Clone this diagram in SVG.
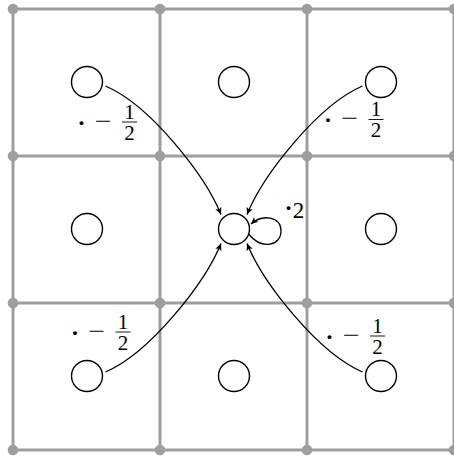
<svg xmlns="http://www.w3.org/2000/svg" width="454" height="460" viewBox="0 0 454 460">
<style>
.grid{stroke:#9e9e9e;stroke-width:3;fill:none}
.gd{fill:#9e9e9e}
.node{fill:none;stroke:#000;stroke-width:1.4}
.edge{fill:none;stroke:#000;stroke-width:1.3}
.t{font-family:'Liberation Serif','DejaVu Serif',serif;fill:#000}
.f{font-size:21px;text-anchor:middle}
.d{font-size:24px;text-anchor:middle;font-weight:bold}
.bar{stroke:#000;stroke-width:0.9}
</style>
<defs>
<marker id="arr" viewBox="-8 -4 9 8" refX="0" refY="0" markerWidth="9" markerHeight="8" markerUnits="userSpaceOnUse" orient="auto">
<path d="M0,0 L-7,-3.2 L-5.3,0 L-7,3.2 Z" fill="#000"/>
</marker>
<g id="lbl">
<text class="t d" x="-48" y="8.5">·</text>
<text class="t f" x="-26.5" y="5.8" textLength="17" lengthAdjust="spacingAndGlyphs">−</text>
<line class="bar" x1="-7.5" y1="0" x2="7.5" y2="0"/>
<text class="t f" x="0" y="-3.5">1</text>
<text class="t f" x="0" y="17.5">2</text>
</g>
</defs>
<rect width="454" height="460" fill="#fff"/>
<g id="grid">
<path class="grid" d="M13,9V450M160,9V450M307,9V450M454,9V450M13,9H454M13,156H454M13,303H454M13,450H454"/>
<g class="gd">
<circle cx="13" cy="9" r="5.3"/><circle cx="160" cy="9" r="5.3"/><circle cx="307" cy="9" r="5.3"/><circle cx="454" cy="9" r="5.3"/>
<circle cx="13" cy="156" r="5.3"/><circle cx="160" cy="156" r="5.3"/><circle cx="307" cy="156" r="5.3"/><circle cx="454" cy="156" r="5.3"/>
<circle cx="13" cy="303" r="5.3"/><circle cx="160" cy="303" r="5.3"/><circle cx="307" cy="303" r="5.3"/><circle cx="454" cy="303" r="5.3"/>
<circle cx="13" cy="450" r="5.3"/><circle cx="160" cy="450" r="5.3"/><circle cx="307" cy="450" r="5.3"/><circle cx="454" cy="450" r="5.3"/>
</g>
</g>
<g id="n11"><circle class="node" cx="87" cy="82" r="15.5"/></g>
<g id="n12"><circle class="node" cx="234" cy="82" r="15.5"/></g>
<g id="n13"><circle class="node" cx="381" cy="82" r="15.5"/></g>
<g id="n21"><circle class="node" cx="87" cy="229" r="15.5"/></g>
<g id="n22"><circle class="node" cx="234" cy="229" r="15.5"/></g>
<g id="n23"><circle class="node" cx="381" cy="229" r="15.5"/></g>
<g id="n31"><circle class="node" cx="87" cy="376" r="15.5"/></g>
<g id="n32"><circle class="node" cx="234" cy="376" r="15.5"/></g>
<g id="n33"><circle class="node" cx="381" cy="376" r="15.5"/></g>
<g id="connectors">
<path class="edge" marker-end="url(#arr)" d="M105.5,86 C150,105 205,175 221,214.5"/>
<path class="edge" marker-end="url(#arr)" d="M362.5,86 C318,105 263,175 247,214.5"/>
<path class="edge" marker-end="url(#arr)" d="M105.5,372 C150,353 205,283 221,243.5"/>
<path class="edge" marker-end="url(#arr)" d="M362.5,372 C318,353 263,283 247,243.5"/>
<path class="edge" marker-end="url(#arr)" d="M249,234.5 C262,250 281,246 281,231 C281,216 262,214 251,224"/>
</g>
<g id="labels">
<use href="#lbl" x="129.5" y="122"/>
<use href="#lbl" x="376" y="119.5"/>
<use href="#lbl" x="123" y="332"/>
<use href="#lbl" x="377.5" y="336"/>
<text class="t d" x="288.5" y="215.5">·</text>
<text class="t" x="298.5" y="218" font-size="23" text-anchor="middle">2</text>
</g>
</svg>
